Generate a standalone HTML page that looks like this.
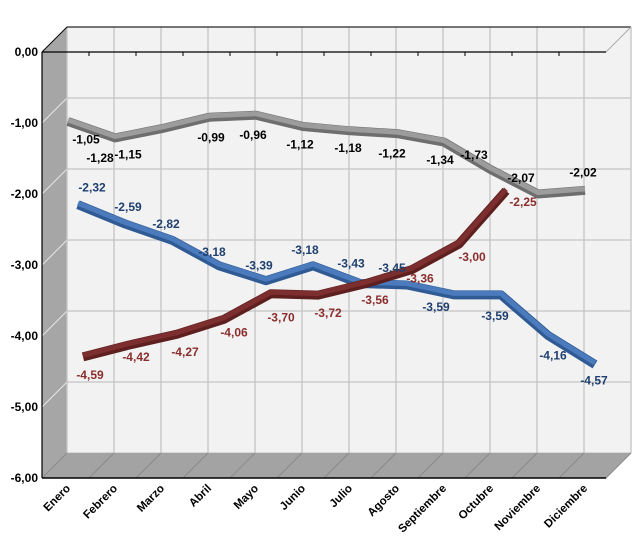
<!DOCTYPE html>
<html><head><meta charset="utf-8"><style>
body{margin:0;background:#fff;}
svg{display:block;font-family:"Liberation Sans",sans-serif;}
</style></head><body>
<svg id="chart" width="643" height="539" viewBox="0 0 643 539" xmlns="http://www.w3.org/2000/svg">
<g id="frame"></g>
<g id="series"></g>
<g id="labels"></g>
</svg>
<script>
const categories=["Enero","Febrero","Marzo","Abril","Mayo","Junio","Julio","Agosto","Septiembre","Octubre","Noviembre","Diciembre"];
const grayValues=[-1.05,-1.28,-1.15,-0.99,-0.96,-1.12,-1.18,-1.22,-1.34,-1.73,-2.07,-2.02];
const blueValues=[-2.32,-2.59,-2.82,-3.18,-3.39,-3.18,-3.43,-3.45,-3.59,-3.59,-4.16,-4.57];
const redValues=[-4.59,-4.42,-4.27,-4.06,-3.70,-3.72,-3.56,-3.36,-3.00,-2.25];
const yTicks=[0,-1,-2,-3,-4,-5,-6];

const NS="http://www.w3.org/2000/svg";
const frontX0=42, step=47, depth=25, yTop=52, unit=71;
function yFront(v){return yTop-v*unit;}
function el(tag,attrs,parent){const e=document.createElementNS(NS,tag);for(const k in attrs)e.setAttribute(k,attrs[k]);parent.appendChild(e);return e;}
const frame=document.getElementById('frame'), sg=document.getElementById('series'), lg=document.getElementById('labels');
const n=categories.length, xEnd=frontX0+step*n;

let w=el('polygon',{points:`${frontX0+depth},${yTop-depth} ${xEnd+depth},${yTop-depth} ${xEnd+depth},${yFront(-6)-depth} ${frontX0+depth},${yFront(-6)-depth}`,fill:'#f2f2f2',stroke:'#bfbfbf'},frame);


let lw=el('polygon',{points:`${frontX0},${yTop} ${frontX0+depth},${yTop-depth} ${frontX0+depth},${yFront(-6)-depth} ${frontX0},${yFront(-6)}`,fill:'#a6a6a6'},frame);


let fl=el('polygon',{points:`${frontX0},${yFront(-6)} ${frontX0+depth},${yFront(-6)-depth} ${xEnd+depth},${yFront(-6)-depth} ${xEnd},${yFront(-6)}`,fill:'#a3a3a3'},frame);


yTicks.forEach(t=>{
  const y=yFront(t);
  if(t>-6){
    let g=el('line',{x1:frontX0+depth,y1:y-depth,x2:xEnd+depth,y2:y-depth,stroke:'#c4c4c4','stroke-width':1.3},frame);
    
    
    el('line',{x1:frontX0,y1:y,x2:frontX0+depth,y2:y-depth,stroke:'#e8e8e8','stroke-width':1},frame);
  }
  let tx=el('text',{x:38,y:y+4,'text-anchor':'end','font-size':12,'font-weight':'bold',fill:'#000'},frame);
  tx.textContent=t.toFixed(2).replace('.',',');
  
  
});
for(let k=0;k<=n;k++){
  const x=frontX0+step*k;
  el('line',{x1:x+depth,y1:yTop-depth,x2:x+depth,y2:yFront(-6)-depth,stroke:'#c4c4c4','stroke-width':1.3},frame);
  el('line',{x1:x,y1:yFront(-6),x2:x+depth,y2:yFront(-6)-depth,stroke:'#8a8a8a','stroke-width':1},frame);
  if(k>0&&k<n) el('line',{x1:x,y1:yTop,x2:x,y2:yTop+4,stroke:'#000'},frame);
}
el('line',{x1:frontX0,y1:yTop,x2:frontX0+depth,y2:yTop-depth,stroke:'#000'},frame);
el('line',{x1:frontX0+depth,y1:yTop-depth,x2:xEnd+depth,y2:yTop-depth,stroke:'#000'},frame);
el('line',{x1:xEnd,y1:yTop,x2:xEnd+depth,y2:yTop-depth,stroke:'#aaa'},frame);
el('line',{x1:frontX0,y1:yTop,x2:xEnd,y2:yTop,stroke:'#000','stroke-width':1.2},frame);
el('line',{x1:frontX0,y1:yTop,x2:frontX0,y2:yFront(-6),stroke:'#000','stroke-width':1.2},frame);
el('line',{x1:frontX0,y1:yFront(-6),x2:xEnd,y2:yFront(-6),stroke:'#000','stroke-width':1.5},frame);
categories.forEach((c,i)=>{
  const x=frontX0+step*i+29, y=489;
  let t=el('text',{x:x,y:y,'text-anchor':'end','font-size':11.5,'font-weight':'bold',fill:'#000',transform:`rotate(-45 ${x} ${y})`},frame);
  t.textContent=c;
  
  
});

const seriesDefs=[
 {name:'gray-series',vals:grayValues,x0:68,dy:-5,dark:'#6e6e6e',light:'#9c9c9c',lab:'#000',
  off:[[18,18],[-15,20],[-34,26],[2,20],[-3,20],[-3,18],[-2,17],[-5,20],[-4,18],[-17,-15],[-17,-16],[-2,-18]]},
 {name:'blue-series',vals:blueValues,x0:78,dy:-12,dark:'#2f5a94',light:'#4b7bbd',lab:'#1f3f6f',
  off:[[14,-17],[3,-17],[-6,-16],[-7,-14],[-7,-15],[-8,-16],[-9,-20],[-15,-17],[-18,12],[-6,21],[5,20],[-1,16]]},
 {name:'red-series',vals:redValues,x0:83,dy:-21,dark:'#5e1f1f',light:'#7d2e2e',lab:'#8b2d2d',
  off:[[7,18],[6,12],[8,18],[10,13],[10,24],[10,18],[10,16],[8,9],[13,13],[17,11]]}
];
seriesDefs.forEach(s=>{
  const pts=s.vals.map((v,i)=>[s.x0+step*i, yFront(v)+s.dy]);
  const d=pts.map((p,i)=>(i?'L':'M')+p[0].toFixed(1)+','+p[1].toFixed(1)).join(' ');
  let p1=el('path',{d:d,fill:'none',stroke:s.dark,'stroke-width':9,'stroke-linejoin':'round','stroke-linecap':'butt'},sg);
  
  
  el('path',{d:d,fill:'none',stroke:s.light,'stroke-width':5,'stroke-linejoin':'round',transform:'translate(0,-1.5)'},sg);
  s.vals.forEach((v,i)=>{
    const o=s.off[i]||[0,16];
    let t=el('text',{x:pts[i][0]+o[0],y:pts[i][1]+o[1]+4,'text-anchor':'middle','font-size':12,'font-weight':'bold',fill:s.lab},lg);
    t.textContent=v.toFixed(2).replace('.',',');
    
    
  });
});
</script>
</body></html>
